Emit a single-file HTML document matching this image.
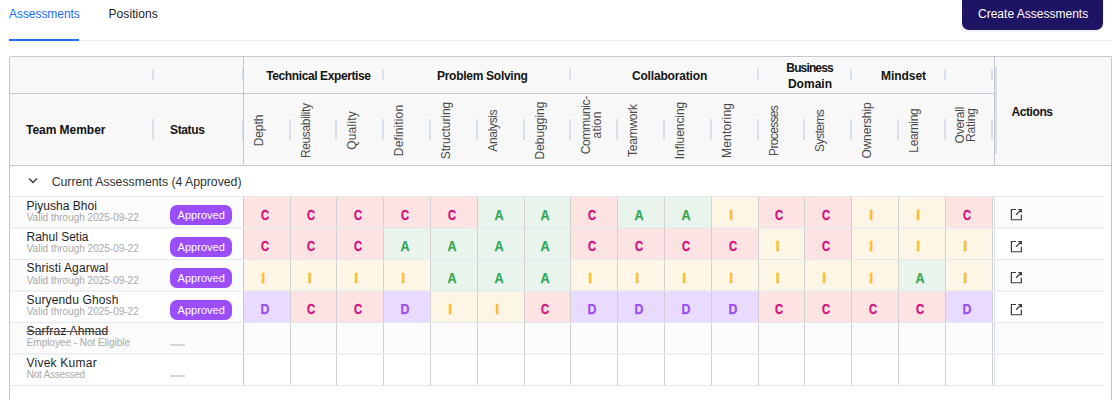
<!DOCTYPE html>
<html><head><meta charset="utf-8"><style>
html,body{margin:0;padding:0;}
body{width:1119px;height:400px;overflow:hidden;position:relative;background:#fff;font-family:"Liberation Sans", sans-serif;}
</style></head><body>
<div style="position:absolute;left:9.00px;top:7.84px;font-size:12px;line-height:12px;height:12px;white-space:nowrap;color:#1b6ef3;font-weight:normal;letter-spacing:-0.052px;">Assessments</div><div style="position:absolute;left:108.50px;top:7.84px;font-size:12px;line-height:12px;height:12px;white-space:nowrap;color:#222;font-weight:normal;letter-spacing:0.081px;">Positions</div><div style="position:absolute;left:9.00px;top:40.00px;width:1103.00px;height:1.00px;background:#e9e9e9"></div><div style="position:absolute;left:9.00px;top:39.00px;width:70.00px;height:2.00px;background:#1b6ef3"></div><div style="position:absolute;left:962.00px;top:-8.00px;width:141.00px;height:38.00px;background:#1d1463;border-radius:7px;box-shadow:0 1px 2px rgba(40,60,160,0.12)"></div><div style="position:absolute;left:978.00px;top:7.64px;font-size:12px;line-height:12px;height:12px;white-space:nowrap;color:#fff;font-weight:normal;letter-spacing:0.008px;">Create Assessments</div><div style="position:absolute;left:9.00px;top:56.00px;width:1103.00px;height:109.00px;background:#f8f8f8;border:1px solid #c3c7cf;border-bottom:none;border-radius:2px 2px 0 0;box-sizing:border-box"></div><div style="position:absolute;left:9.00px;top:165.00px;width:1.00px;height:235.00px;background:#c3c7cf"></div><div style="position:absolute;left:1111.00px;top:165.00px;width:1.00px;height:235.00px;background:#c3c7cf"></div><div style="position:absolute;left:9.00px;top:93.00px;width:985.00px;height:1.00px;background:#c3c7cf"></div><div style="position:absolute;left:9.00px;top:165.00px;width:1103.00px;height:1.00px;background:#c3c7cf"></div><div style="position:absolute;left:243.00px;top:56.00px;width:1.00px;height:109.00px;background:#c3c7cf"></div><div style="position:absolute;left:994.00px;top:56.00px;width:1.00px;height:109.00px;background:#c3c7cf"></div><div style="position:absolute;left:152.00px;top:69.00px;width:2.00px;height:11.00px;background:#dbe1ec"></div><div style="position:absolute;left:242.00px;top:69.00px;width:2.00px;height:11.00px;background:#dbe1ec"></div><div style="position:absolute;left:382.00px;top:69.00px;width:2.00px;height:11.00px;background:#dbe1ec"></div><div style="position:absolute;left:569.00px;top:69.00px;width:2.00px;height:11.00px;background:#dbe1ec"></div><div style="position:absolute;left:757.00px;top:69.00px;width:2.00px;height:11.00px;background:#dbe1ec"></div><div style="position:absolute;left:850.00px;top:69.00px;width:2.00px;height:11.00px;background:#dbe1ec"></div><div style="position:absolute;left:944.00px;top:69.00px;width:2.00px;height:11.00px;background:#dbe1ec"></div><div style="position:absolute;left:991.00px;top:69.00px;width:2.00px;height:11.00px;background:#dbe1ec"></div><div style="position:absolute;left:152.00px;top:119.00px;width:2.00px;height:21.00px;background:#dbe1ec"></div><div style="position:absolute;left:242.00px;top:119.00px;width:2.00px;height:21.00px;background:#dbe1ec"></div><div style="position:absolute;left:289.00px;top:119.00px;width:2.00px;height:21.00px;background:#dbe1ec"></div><div style="position:absolute;left:335.00px;top:119.00px;width:2.00px;height:21.00px;background:#dbe1ec"></div><div style="position:absolute;left:382.00px;top:119.00px;width:2.00px;height:21.00px;background:#dbe1ec"></div><div style="position:absolute;left:429.00px;top:119.00px;width:2.00px;height:21.00px;background:#dbe1ec"></div><div style="position:absolute;left:476.00px;top:119.00px;width:2.00px;height:21.00px;background:#dbe1ec"></div><div style="position:absolute;left:523.00px;top:119.00px;width:2.00px;height:21.00px;background:#dbe1ec"></div><div style="position:absolute;left:569.00px;top:119.00px;width:2.00px;height:21.00px;background:#dbe1ec"></div><div style="position:absolute;left:616.00px;top:119.00px;width:2.00px;height:21.00px;background:#dbe1ec"></div><div style="position:absolute;left:663.00px;top:119.00px;width:2.00px;height:21.00px;background:#dbe1ec"></div><div style="position:absolute;left:710.00px;top:119.00px;width:2.00px;height:21.00px;background:#dbe1ec"></div><div style="position:absolute;left:757.00px;top:119.00px;width:2.00px;height:21.00px;background:#dbe1ec"></div><div style="position:absolute;left:803.00px;top:119.00px;width:2.00px;height:21.00px;background:#dbe1ec"></div><div style="position:absolute;left:850.00px;top:119.00px;width:2.00px;height:21.00px;background:#dbe1ec"></div><div style="position:absolute;left:897.00px;top:119.00px;width:2.00px;height:21.00px;background:#dbe1ec"></div><div style="position:absolute;left:944.00px;top:119.00px;width:2.00px;height:21.00px;background:#dbe1ec"></div><div style="position:absolute;left:991.00px;top:119.00px;width:2.00px;height:21.00px;background:#dbe1ec"></div><div style="position:absolute;left:995.00px;top:67.00px;width:2.00px;height:87.00px;background:#dbe1ec"></div><div style="position:absolute;left:243.00px;top:56.00px;width:1.00px;height:109.00px;background:#c3c7cf"></div><div style="position:absolute;left:994.00px;top:56.00px;width:1.00px;height:109.00px;background:#c3c7cf"></div><div style="position:absolute;left:26.00px;top:124.14px;font-size:12px;line-height:12px;height:12px;white-space:nowrap;color:#141414;font-weight:bold;letter-spacing:-0.036px;">Team Member</div><div style="position:absolute;left:170.00px;top:124.34px;font-size:12px;line-height:12px;height:12px;white-space:nowrap;color:#141414;font-weight:bold;letter-spacing:-0.367px;">Status</div><div style="position:absolute;left:1011.40px;top:106.34px;font-size:12px;line-height:12px;height:12px;white-space:nowrap;color:#141414;font-weight:bold;letter-spacing:-0.394px;">Actions</div><div style="position:absolute;left:168.60px;width:300px;text-align:center;top:70.04px;font-size:12px;line-height:12px;height:12px;white-space:nowrap;color:#141414;font-weight:bold;letter-spacing:-0.388px;text-indent:-0.388px;">Technical Expertise</div><div style="position:absolute;left:332.40px;width:300px;text-align:center;top:70.04px;font-size:12px;line-height:12px;height:12px;white-space:nowrap;color:#141414;font-weight:bold;letter-spacing:-0.274px;text-indent:-0.274px;">Problem Solving</div><div style="position:absolute;left:519.60px;width:300px;text-align:center;top:70.04px;font-size:12px;line-height:12px;height:12px;white-space:nowrap;color:#141414;font-weight:bold;letter-spacing:-0.166px;text-indent:-0.166px;">Collaboration</div><div style="position:absolute;left:753.60px;width:300px;text-align:center;top:70.04px;font-size:12px;line-height:12px;height:12px;white-space:nowrap;color:#141414;font-weight:bold;letter-spacing:-0.049px;text-indent:-0.049px;">Mindset</div><div style="position:absolute;left:660.00px;width:300px;text-align:center;top:62.44px;font-size:12px;line-height:12px;height:12px;white-space:nowrap;color:#141414;font-weight:bold;letter-spacing:-0.859px;text-indent:-0.859px;">Business</div><div style="position:absolute;left:660.00px;width:300px;text-align:center;top:78.24px;font-size:12px;line-height:12px;height:12px;white-space:nowrap;color:#141414;font-weight:bold;letter-spacing:0.027px;text-indent:0.027px;">Domain</div><div style="position:absolute;left:198.70px;top:124.80px;width:120px;height:11px;line-height:11px;font-size:12px;text-align:center;color:#4a4a4a;transform:rotate(-90deg);white-space:nowrap"><span style="letter-spacing:-0.095px;margin-right:0.095px">Depth</span></div><div style="position:absolute;left:245.50px;top:124.80px;width:120px;height:11px;line-height:11px;font-size:12px;text-align:center;color:#4a4a4a;transform:rotate(-90deg);white-space:nowrap"><span style="letter-spacing:-0.355px;margin-right:0.355px">Reusability</span></div><div style="position:absolute;left:292.30px;top:124.80px;width:120px;height:11px;line-height:11px;font-size:12px;text-align:center;color:#4a4a4a;transform:rotate(-90deg);white-space:nowrap"><span style="letter-spacing:0.215px;margin-right:-0.215px">Quality</span></div><div style="position:absolute;left:339.10px;top:124.80px;width:120px;height:11px;line-height:11px;font-size:12px;text-align:center;color:#4a4a4a;transform:rotate(-90deg);white-space:nowrap"><span style="letter-spacing:0.135px;margin-right:-0.135px">Definition</span></div><div style="position:absolute;left:385.90px;top:124.80px;width:120px;height:11px;line-height:11px;font-size:12px;text-align:center;color:#4a4a4a;transform:rotate(-90deg);white-space:nowrap"><span style="letter-spacing:-0.049px;margin-right:0.049px">Structuring</span></div><div style="position:absolute;left:432.70px;top:124.80px;width:120px;height:11px;line-height:11px;font-size:12px;text-align:center;color:#4a4a4a;transform:rotate(-90deg);white-space:nowrap"><span style="letter-spacing:-0.349px;margin-right:0.349px">Analysis</span></div><div style="position:absolute;left:479.50px;top:124.80px;width:120px;height:11px;line-height:11px;font-size:12px;text-align:center;color:#4a4a4a;transform:rotate(-90deg);white-space:nowrap"><span style="letter-spacing:-0.026px;margin-right:0.026px">Debugging</span></div><div style="position:absolute;left:531.80px;top:114.20px;width:120px;height:22px;line-height:11px;font-size:12px;text-align:center;color:#4a4a4a;transform:rotate(-90deg);white-space:nowrap"><span style="letter-spacing:-0.363px;margin-right:0.363px">Communic-</span><br><span style="letter-spacing:0.205px;margin-right:-0.205px">ation</span></div><div style="position:absolute;left:573.10px;top:124.80px;width:120px;height:11px;line-height:11px;font-size:12px;text-align:center;color:#4a4a4a;transform:rotate(-90deg);white-space:nowrap"><span style="letter-spacing:-0.234px;margin-right:0.234px">Teamwork</span></div><div style="position:absolute;left:619.90px;top:124.80px;width:120px;height:11px;line-height:11px;font-size:12px;text-align:center;color:#4a4a4a;transform:rotate(-90deg);white-space:nowrap"><span style="letter-spacing:-0.050px;margin-right:0.050px">Influencing</span></div><div style="position:absolute;left:666.70px;top:124.80px;width:120px;height:11px;line-height:11px;font-size:12px;text-align:center;color:#4a4a4a;transform:rotate(-90deg);white-space:nowrap"><span style="letter-spacing:0.197px;margin-right:-0.197px">Mentoring</span></div><div style="position:absolute;left:713.50px;top:124.80px;width:120px;height:11px;line-height:11px;font-size:12px;text-align:center;color:#4a4a4a;transform:rotate(-90deg);white-space:nowrap"><span style="letter-spacing:-0.660px;margin-right:0.660px">Processes</span></div><div style="position:absolute;left:760.30px;top:124.80px;width:120px;height:11px;line-height:11px;font-size:12px;text-align:center;color:#4a4a4a;transform:rotate(-90deg);white-space:nowrap"><span style="letter-spacing:-0.545px;margin-right:0.545px">Systems</span></div><div style="position:absolute;left:807.10px;top:124.80px;width:120px;height:11px;line-height:11px;font-size:12px;text-align:center;color:#4a4a4a;transform:rotate(-90deg);white-space:nowrap"><span style="letter-spacing:-0.152px;margin-right:0.152px">Ownership</span></div><div style="position:absolute;left:853.90px;top:124.80px;width:120px;height:11px;line-height:11px;font-size:12px;text-align:center;color:#4a4a4a;transform:rotate(-90deg);white-space:nowrap"><span style="letter-spacing:-0.324px;margin-right:0.324px">Learning</span></div><div style="position:absolute;left:906.20px;top:113.60px;width:120px;height:22px;line-height:11px;font-size:12px;text-align:center;color:#4a4a4a;transform:rotate(-90deg);white-space:nowrap"><span style="letter-spacing:-0.195px;margin-right:0.195px">Overall</span><br><span style="letter-spacing:-0.189px;margin-right:0.189px">Rating</span></div><div style="position:absolute;left:10.00px;top:166.00px;width:1101.00px;height:30.50px;background:#fff"></div><svg style="position:absolute;left:28px;top:177px" width="10" height="7" viewBox="0 0 10 7"><path d="M1 1.5 L5 5.5 L9 1.5" fill="none" stroke="#333" stroke-width="1.25"/></svg><div style="position:absolute;left:51.70px;top:175.99px;font-size:12.3px;line-height:12.3px;height:12.3px;white-space:nowrap;color:#333;font-weight:normal;letter-spacing:-0.028px;">Current Assessments (4 Approved)</div><div style="position:absolute;left:10.00px;top:196.00px;width:1094.00px;height:1.00px;background:#e4e7ee"></div><div style="position:absolute;left:10.00px;top:197.00px;width:1094.00px;height:31.00px;background:#fbfbfb"></div><div style="position:absolute;left:243.00px;top:197.00px;width:47.00px;height:31.00px;background:#fde4e3"></div><div style="position:absolute;left:244.50px;width:40px;text-align:center;top:208.25px;font-size:14px;line-height:14px;font-weight:bold;color:#d4117d;transform:scaleX(0.8);-webkit-text-stroke:0.35px #d4117d">C</div><div style="position:absolute;left:290.00px;top:197.00px;width:46.00px;height:31.00px;background:#fde4e3"></div><div style="position:absolute;left:291.00px;width:40px;text-align:center;top:208.25px;font-size:14px;line-height:14px;font-weight:bold;color:#d4117d;transform:scaleX(0.8);-webkit-text-stroke:0.35px #d4117d">C</div><div style="position:absolute;left:336.00px;top:197.00px;width:47.00px;height:31.00px;background:#fde4e3"></div><div style="position:absolute;left:337.50px;width:40px;text-align:center;top:208.25px;font-size:14px;line-height:14px;font-weight:bold;color:#d4117d;transform:scaleX(0.8);-webkit-text-stroke:0.35px #d4117d">C</div><div style="position:absolute;left:383.00px;top:197.00px;width:47.00px;height:31.00px;background:#fde4e3"></div><div style="position:absolute;left:384.50px;width:40px;text-align:center;top:208.25px;font-size:14px;line-height:14px;font-weight:bold;color:#d4117d;transform:scaleX(0.8);-webkit-text-stroke:0.35px #d4117d">C</div><div style="position:absolute;left:430.00px;top:197.00px;width:47.00px;height:31.00px;background:#fde4e3"></div><div style="position:absolute;left:431.50px;width:40px;text-align:center;top:208.25px;font-size:14px;line-height:14px;font-weight:bold;color:#d4117d;transform:scaleX(0.8);-webkit-text-stroke:0.35px #d4117d">C</div><div style="position:absolute;left:477.00px;top:197.00px;width:47.00px;height:31.00px;background:#e9f4ec"></div><div style="position:absolute;left:478.50px;width:40px;text-align:center;top:208.25px;font-size:14px;line-height:14px;font-weight:bold;color:#33a853;transform:scaleX(0.9);-webkit-text-stroke:0.25px #33a853">A</div><div style="position:absolute;left:524.00px;top:197.00px;width:46.00px;height:31.00px;background:#e9f4ec"></div><div style="position:absolute;left:525.00px;width:40px;text-align:center;top:208.25px;font-size:14px;line-height:14px;font-weight:bold;color:#33a853;transform:scaleX(0.9);-webkit-text-stroke:0.25px #33a853">A</div><div style="position:absolute;left:570.00px;top:197.00px;width:47.00px;height:31.00px;background:#fde4e3"></div><div style="position:absolute;left:571.50px;width:40px;text-align:center;top:208.25px;font-size:14px;line-height:14px;font-weight:bold;color:#d4117d;transform:scaleX(0.8);-webkit-text-stroke:0.35px #d4117d">C</div><div style="position:absolute;left:617.00px;top:197.00px;width:47.00px;height:31.00px;background:#e9f4ec"></div><div style="position:absolute;left:618.50px;width:40px;text-align:center;top:208.25px;font-size:14px;line-height:14px;font-weight:bold;color:#33a853;transform:scaleX(0.9);-webkit-text-stroke:0.25px #33a853">A</div><div style="position:absolute;left:664.00px;top:197.00px;width:47.00px;height:31.00px;background:#e9f4ec"></div><div style="position:absolute;left:665.50px;width:40px;text-align:center;top:208.25px;font-size:14px;line-height:14px;font-weight:bold;color:#33a853;transform:scaleX(0.9);-webkit-text-stroke:0.25px #33a853">A</div><div style="position:absolute;left:711.00px;top:197.00px;width:47.00px;height:31.00px;background:#fdf5e6"></div><div style="position:absolute;left:711.30px;width:40px;text-align:center;top:208.25px;font-size:14px;line-height:14px;font-weight:bold;color:#fbbb2e;transform:scaleX(1.0);-webkit-text-stroke:0.4px #fbbb2e">I</div><div style="position:absolute;left:758.00px;top:197.00px;width:46.00px;height:31.00px;background:#fde4e3"></div><div style="position:absolute;left:759.00px;width:40px;text-align:center;top:208.25px;font-size:14px;line-height:14px;font-weight:bold;color:#d4117d;transform:scaleX(0.8);-webkit-text-stroke:0.35px #d4117d">C</div><div style="position:absolute;left:804.00px;top:197.00px;width:47.00px;height:31.00px;background:#fde4e3"></div><div style="position:absolute;left:805.50px;width:40px;text-align:center;top:208.25px;font-size:14px;line-height:14px;font-weight:bold;color:#d4117d;transform:scaleX(0.8);-webkit-text-stroke:0.35px #d4117d">C</div><div style="position:absolute;left:851.00px;top:197.00px;width:47.00px;height:31.00px;background:#fdf5e6"></div><div style="position:absolute;left:851.30px;width:40px;text-align:center;top:208.25px;font-size:14px;line-height:14px;font-weight:bold;color:#fbbb2e;transform:scaleX(1.0);-webkit-text-stroke:0.4px #fbbb2e">I</div><div style="position:absolute;left:898.00px;top:197.00px;width:47.00px;height:31.00px;background:#fdf5e6"></div><div style="position:absolute;left:898.30px;width:40px;text-align:center;top:208.25px;font-size:14px;line-height:14px;font-weight:bold;color:#fbbb2e;transform:scaleX(1.0);-webkit-text-stroke:0.4px #fbbb2e">I</div><div style="position:absolute;left:945.00px;top:197.00px;width:47.00px;height:31.00px;background:#fde4e3"></div><div style="position:absolute;left:946.50px;width:40px;text-align:center;top:208.25px;font-size:14px;line-height:14px;font-weight:bold;color:#d4117d;transform:scaleX(0.8);-webkit-text-stroke:0.35px #d4117d">C</div><div style="position:absolute;left:243.00px;top:197.00px;width:1.00px;height:31.00px;background:#c3c7cf"></div><div style="position:absolute;left:290.00px;top:197.00px;width:1.00px;height:31.00px;background:#d0d0d0"></div><div style="position:absolute;left:336.00px;top:197.00px;width:1.00px;height:31.00px;background:#d0d0d0"></div><div style="position:absolute;left:383.00px;top:197.00px;width:1.00px;height:31.00px;background:#d0d0d0"></div><div style="position:absolute;left:430.00px;top:197.00px;width:1.00px;height:31.00px;background:#d0d0d0"></div><div style="position:absolute;left:477.00px;top:197.00px;width:1.00px;height:31.00px;background:#d0d0d0"></div><div style="position:absolute;left:524.00px;top:197.00px;width:1.00px;height:31.00px;background:#d0d0d0"></div><div style="position:absolute;left:570.00px;top:197.00px;width:1.00px;height:31.00px;background:#d0d0d0"></div><div style="position:absolute;left:617.00px;top:197.00px;width:1.00px;height:31.00px;background:#d0d0d0"></div><div style="position:absolute;left:664.00px;top:197.00px;width:1.00px;height:31.00px;background:#d0d0d0"></div><div style="position:absolute;left:711.00px;top:197.00px;width:1.00px;height:31.00px;background:#d0d0d0"></div><div style="position:absolute;left:758.00px;top:197.00px;width:1.00px;height:31.00px;background:#d0d0d0"></div><div style="position:absolute;left:804.00px;top:197.00px;width:1.00px;height:31.00px;background:#d0d0d0"></div><div style="position:absolute;left:851.00px;top:197.00px;width:1.00px;height:31.00px;background:#d0d0d0"></div><div style="position:absolute;left:898.00px;top:197.00px;width:1.00px;height:31.00px;background:#d0d0d0"></div><div style="position:absolute;left:945.00px;top:197.00px;width:1.00px;height:31.00px;background:#d0d0d0"></div><div style="position:absolute;left:992.00px;top:197.00px;width:1.00px;height:31.00px;background:#d0d0d0"></div><div style="position:absolute;left:994.00px;top:197.00px;width:1.00px;height:31.00px;background:#dbe1ec"></div><div style="position:absolute;left:26.50px;top:200.04px;font-size:12px;line-height:12px;height:12px;white-space:nowrap;color:#1f1f1f;font-weight:normal;letter-spacing:0.027px;">Piyusha Bhoi</div><div style="position:absolute;left:26.70px;top:212.94px;font-size:10px;line-height:10px;height:10px;white-space:nowrap;color:#a9a9a9;font-weight:normal;letter-spacing:-0.005px;">Valid through 2025-09-22</div><div style="position:absolute;left:170.00px;top:205.10px;width:62.00px;height:20.30px;background:#9b4dfa;border-radius:7px"></div><div style="position:absolute;left:177.60px;top:210.19px;font-size:11px;line-height:11px;height:11px;white-space:nowrap;color:#fff;font-weight:normal;letter-spacing:0.026px;">Approved</div><svg style="position:absolute;left:1006px;top:204.00px" width="20" height="20" viewBox="0 0 20 20"><path d="M10 5.5 H5.4 V15.75 H15.35 V10.75 M12.3 5.5 H15.35 V8.6 M15.1 5.75 L10.1 10.75" fill="none" stroke="#3a3a3a" stroke-width="1.2"/></svg><div style="position:absolute;left:10.00px;top:228.00px;width:1094.00px;height:31.00px;background:#fff"></div><div style="position:absolute;left:243.00px;top:228.00px;width:47.00px;height:31.00px;background:#fde4e3"></div><div style="position:absolute;left:244.50px;width:40px;text-align:center;top:239.15px;font-size:14px;line-height:14px;font-weight:bold;color:#d4117d;transform:scaleX(0.8);-webkit-text-stroke:0.35px #d4117d">C</div><div style="position:absolute;left:290.00px;top:228.00px;width:46.00px;height:31.00px;background:#fde4e3"></div><div style="position:absolute;left:291.00px;width:40px;text-align:center;top:239.15px;font-size:14px;line-height:14px;font-weight:bold;color:#d4117d;transform:scaleX(0.8);-webkit-text-stroke:0.35px #d4117d">C</div><div style="position:absolute;left:336.00px;top:228.00px;width:47.00px;height:31.00px;background:#fde4e3"></div><div style="position:absolute;left:337.50px;width:40px;text-align:center;top:239.15px;font-size:14px;line-height:14px;font-weight:bold;color:#d4117d;transform:scaleX(0.8);-webkit-text-stroke:0.35px #d4117d">C</div><div style="position:absolute;left:383.00px;top:228.00px;width:47.00px;height:31.00px;background:#e9f4ec"></div><div style="position:absolute;left:384.50px;width:40px;text-align:center;top:239.15px;font-size:14px;line-height:14px;font-weight:bold;color:#33a853;transform:scaleX(0.9);-webkit-text-stroke:0.25px #33a853">A</div><div style="position:absolute;left:430.00px;top:228.00px;width:47.00px;height:31.00px;background:#e9f4ec"></div><div style="position:absolute;left:431.50px;width:40px;text-align:center;top:239.15px;font-size:14px;line-height:14px;font-weight:bold;color:#33a853;transform:scaleX(0.9);-webkit-text-stroke:0.25px #33a853">A</div><div style="position:absolute;left:477.00px;top:228.00px;width:47.00px;height:31.00px;background:#e9f4ec"></div><div style="position:absolute;left:478.50px;width:40px;text-align:center;top:239.15px;font-size:14px;line-height:14px;font-weight:bold;color:#33a853;transform:scaleX(0.9);-webkit-text-stroke:0.25px #33a853">A</div><div style="position:absolute;left:524.00px;top:228.00px;width:46.00px;height:31.00px;background:#e9f4ec"></div><div style="position:absolute;left:525.00px;width:40px;text-align:center;top:239.15px;font-size:14px;line-height:14px;font-weight:bold;color:#33a853;transform:scaleX(0.9);-webkit-text-stroke:0.25px #33a853">A</div><div style="position:absolute;left:570.00px;top:228.00px;width:47.00px;height:31.00px;background:#fde4e3"></div><div style="position:absolute;left:571.50px;width:40px;text-align:center;top:239.15px;font-size:14px;line-height:14px;font-weight:bold;color:#d4117d;transform:scaleX(0.8);-webkit-text-stroke:0.35px #d4117d">C</div><div style="position:absolute;left:617.00px;top:228.00px;width:47.00px;height:31.00px;background:#fde4e3"></div><div style="position:absolute;left:618.50px;width:40px;text-align:center;top:239.15px;font-size:14px;line-height:14px;font-weight:bold;color:#d4117d;transform:scaleX(0.8);-webkit-text-stroke:0.35px #d4117d">C</div><div style="position:absolute;left:664.00px;top:228.00px;width:47.00px;height:31.00px;background:#fde4e3"></div><div style="position:absolute;left:665.50px;width:40px;text-align:center;top:239.15px;font-size:14px;line-height:14px;font-weight:bold;color:#d4117d;transform:scaleX(0.8);-webkit-text-stroke:0.35px #d4117d">C</div><div style="position:absolute;left:711.00px;top:228.00px;width:47.00px;height:31.00px;background:#fde4e3"></div><div style="position:absolute;left:712.50px;width:40px;text-align:center;top:239.15px;font-size:14px;line-height:14px;font-weight:bold;color:#d4117d;transform:scaleX(0.8);-webkit-text-stroke:0.35px #d4117d">C</div><div style="position:absolute;left:758.00px;top:228.00px;width:46.00px;height:31.00px;background:#fdf5e6"></div><div style="position:absolute;left:757.80px;width:40px;text-align:center;top:239.15px;font-size:14px;line-height:14px;font-weight:bold;color:#fbbb2e;transform:scaleX(1.0);-webkit-text-stroke:0.4px #fbbb2e">I</div><div style="position:absolute;left:804.00px;top:228.00px;width:47.00px;height:31.00px;background:#fde4e3"></div><div style="position:absolute;left:805.50px;width:40px;text-align:center;top:239.15px;font-size:14px;line-height:14px;font-weight:bold;color:#d4117d;transform:scaleX(0.8);-webkit-text-stroke:0.35px #d4117d">C</div><div style="position:absolute;left:851.00px;top:228.00px;width:47.00px;height:31.00px;background:#fdf5e6"></div><div style="position:absolute;left:851.30px;width:40px;text-align:center;top:239.15px;font-size:14px;line-height:14px;font-weight:bold;color:#fbbb2e;transform:scaleX(1.0);-webkit-text-stroke:0.4px #fbbb2e">I</div><div style="position:absolute;left:898.00px;top:228.00px;width:47.00px;height:31.00px;background:#fdf5e6"></div><div style="position:absolute;left:898.30px;width:40px;text-align:center;top:239.15px;font-size:14px;line-height:14px;font-weight:bold;color:#fbbb2e;transform:scaleX(1.0);-webkit-text-stroke:0.4px #fbbb2e">I</div><div style="position:absolute;left:945.00px;top:228.00px;width:47.00px;height:31.00px;background:#fdf5e6"></div><div style="position:absolute;left:945.30px;width:40px;text-align:center;top:239.15px;font-size:14px;line-height:14px;font-weight:bold;color:#fbbb2e;transform:scaleX(1.0);-webkit-text-stroke:0.4px #fbbb2e">I</div><div style="position:absolute;left:243.00px;top:228.00px;width:1.00px;height:31.00px;background:#c3c7cf"></div><div style="position:absolute;left:290.00px;top:228.00px;width:1.00px;height:31.00px;background:#d0d0d0"></div><div style="position:absolute;left:336.00px;top:228.00px;width:1.00px;height:31.00px;background:#d0d0d0"></div><div style="position:absolute;left:383.00px;top:228.00px;width:1.00px;height:31.00px;background:#d0d0d0"></div><div style="position:absolute;left:430.00px;top:228.00px;width:1.00px;height:31.00px;background:#d0d0d0"></div><div style="position:absolute;left:477.00px;top:228.00px;width:1.00px;height:31.00px;background:#d0d0d0"></div><div style="position:absolute;left:524.00px;top:228.00px;width:1.00px;height:31.00px;background:#d0d0d0"></div><div style="position:absolute;left:570.00px;top:228.00px;width:1.00px;height:31.00px;background:#d0d0d0"></div><div style="position:absolute;left:617.00px;top:228.00px;width:1.00px;height:31.00px;background:#d0d0d0"></div><div style="position:absolute;left:664.00px;top:228.00px;width:1.00px;height:31.00px;background:#d0d0d0"></div><div style="position:absolute;left:711.00px;top:228.00px;width:1.00px;height:31.00px;background:#d0d0d0"></div><div style="position:absolute;left:758.00px;top:228.00px;width:1.00px;height:31.00px;background:#d0d0d0"></div><div style="position:absolute;left:804.00px;top:228.00px;width:1.00px;height:31.00px;background:#d0d0d0"></div><div style="position:absolute;left:851.00px;top:228.00px;width:1.00px;height:31.00px;background:#d0d0d0"></div><div style="position:absolute;left:898.00px;top:228.00px;width:1.00px;height:31.00px;background:#d0d0d0"></div><div style="position:absolute;left:945.00px;top:228.00px;width:1.00px;height:31.00px;background:#d0d0d0"></div><div style="position:absolute;left:992.00px;top:228.00px;width:1.00px;height:31.00px;background:#d0d0d0"></div><div style="position:absolute;left:994.00px;top:228.00px;width:1.00px;height:31.00px;background:#dbe1ec"></div><div style="position:absolute;left:26.50px;top:230.74px;font-size:12px;line-height:12px;height:12px;white-space:nowrap;color:#1f1f1f;font-weight:normal;letter-spacing:0.000px;">Rahul Setia</div><div style="position:absolute;left:26.70px;top:243.84px;font-size:10px;line-height:10px;height:10px;white-space:nowrap;color:#a9a9a9;font-weight:normal;letter-spacing:-0.005px;">Valid through 2025-09-22</div><div style="position:absolute;left:170.00px;top:236.60px;width:62.00px;height:20.30px;background:#9b4dfa;border-radius:7px"></div><div style="position:absolute;left:177.60px;top:241.69px;font-size:11px;line-height:11px;height:11px;white-space:nowrap;color:#fff;font-weight:normal;letter-spacing:0.026px;">Approved</div><svg style="position:absolute;left:1006px;top:235.50px" width="20" height="20" viewBox="0 0 20 20"><path d="M10 5.5 H5.4 V15.75 H15.35 V10.75 M12.3 5.5 H15.35 V8.6 M15.1 5.75 L10.1 10.75" fill="none" stroke="#3a3a3a" stroke-width="1.2"/></svg><div style="position:absolute;left:10.00px;top:260.00px;width:1094.00px;height:31.00px;background:#fbfbfb"></div><div style="position:absolute;left:243.00px;top:260.00px;width:47.00px;height:31.00px;background:#fdf5e6"></div><div style="position:absolute;left:243.30px;width:40px;text-align:center;top:271.25px;font-size:14px;line-height:14px;font-weight:bold;color:#fbbb2e;transform:scaleX(1.0);-webkit-text-stroke:0.4px #fbbb2e">I</div><div style="position:absolute;left:290.00px;top:260.00px;width:46.00px;height:31.00px;background:#fdf5e6"></div><div style="position:absolute;left:289.80px;width:40px;text-align:center;top:271.25px;font-size:14px;line-height:14px;font-weight:bold;color:#fbbb2e;transform:scaleX(1.0);-webkit-text-stroke:0.4px #fbbb2e">I</div><div style="position:absolute;left:336.00px;top:260.00px;width:47.00px;height:31.00px;background:#fdf5e6"></div><div style="position:absolute;left:336.30px;width:40px;text-align:center;top:271.25px;font-size:14px;line-height:14px;font-weight:bold;color:#fbbb2e;transform:scaleX(1.0);-webkit-text-stroke:0.4px #fbbb2e">I</div><div style="position:absolute;left:383.00px;top:260.00px;width:47.00px;height:31.00px;background:#fdf5e6"></div><div style="position:absolute;left:383.30px;width:40px;text-align:center;top:271.25px;font-size:14px;line-height:14px;font-weight:bold;color:#fbbb2e;transform:scaleX(1.0);-webkit-text-stroke:0.4px #fbbb2e">I</div><div style="position:absolute;left:430.00px;top:260.00px;width:47.00px;height:31.00px;background:#e9f4ec"></div><div style="position:absolute;left:431.50px;width:40px;text-align:center;top:271.25px;font-size:14px;line-height:14px;font-weight:bold;color:#33a853;transform:scaleX(0.9);-webkit-text-stroke:0.25px #33a853">A</div><div style="position:absolute;left:477.00px;top:260.00px;width:47.00px;height:31.00px;background:#e9f4ec"></div><div style="position:absolute;left:478.50px;width:40px;text-align:center;top:271.25px;font-size:14px;line-height:14px;font-weight:bold;color:#33a853;transform:scaleX(0.9);-webkit-text-stroke:0.25px #33a853">A</div><div style="position:absolute;left:524.00px;top:260.00px;width:46.00px;height:31.00px;background:#e9f4ec"></div><div style="position:absolute;left:525.00px;width:40px;text-align:center;top:271.25px;font-size:14px;line-height:14px;font-weight:bold;color:#33a853;transform:scaleX(0.9);-webkit-text-stroke:0.25px #33a853">A</div><div style="position:absolute;left:570.00px;top:260.00px;width:47.00px;height:31.00px;background:#fdf5e6"></div><div style="position:absolute;left:570.30px;width:40px;text-align:center;top:271.25px;font-size:14px;line-height:14px;font-weight:bold;color:#fbbb2e;transform:scaleX(1.0);-webkit-text-stroke:0.4px #fbbb2e">I</div><div style="position:absolute;left:617.00px;top:260.00px;width:47.00px;height:31.00px;background:#fdf5e6"></div><div style="position:absolute;left:617.30px;width:40px;text-align:center;top:271.25px;font-size:14px;line-height:14px;font-weight:bold;color:#fbbb2e;transform:scaleX(1.0);-webkit-text-stroke:0.4px #fbbb2e">I</div><div style="position:absolute;left:664.00px;top:260.00px;width:47.00px;height:31.00px;background:#fdf5e6"></div><div style="position:absolute;left:664.30px;width:40px;text-align:center;top:271.25px;font-size:14px;line-height:14px;font-weight:bold;color:#fbbb2e;transform:scaleX(1.0);-webkit-text-stroke:0.4px #fbbb2e">I</div><div style="position:absolute;left:711.00px;top:260.00px;width:47.00px;height:31.00px;background:#fdf5e6"></div><div style="position:absolute;left:711.30px;width:40px;text-align:center;top:271.25px;font-size:14px;line-height:14px;font-weight:bold;color:#fbbb2e;transform:scaleX(1.0);-webkit-text-stroke:0.4px #fbbb2e">I</div><div style="position:absolute;left:758.00px;top:260.00px;width:46.00px;height:31.00px;background:#fdf5e6"></div><div style="position:absolute;left:757.80px;width:40px;text-align:center;top:271.25px;font-size:14px;line-height:14px;font-weight:bold;color:#fbbb2e;transform:scaleX(1.0);-webkit-text-stroke:0.4px #fbbb2e">I</div><div style="position:absolute;left:804.00px;top:260.00px;width:47.00px;height:31.00px;background:#fdf5e6"></div><div style="position:absolute;left:804.30px;width:40px;text-align:center;top:271.25px;font-size:14px;line-height:14px;font-weight:bold;color:#fbbb2e;transform:scaleX(1.0);-webkit-text-stroke:0.4px #fbbb2e">I</div><div style="position:absolute;left:851.00px;top:260.00px;width:47.00px;height:31.00px;background:#fdf5e6"></div><div style="position:absolute;left:851.30px;width:40px;text-align:center;top:271.25px;font-size:14px;line-height:14px;font-weight:bold;color:#fbbb2e;transform:scaleX(1.0);-webkit-text-stroke:0.4px #fbbb2e">I</div><div style="position:absolute;left:898.00px;top:260.00px;width:47.00px;height:31.00px;background:#e9f4ec"></div><div style="position:absolute;left:899.50px;width:40px;text-align:center;top:271.25px;font-size:14px;line-height:14px;font-weight:bold;color:#33a853;transform:scaleX(0.9);-webkit-text-stroke:0.25px #33a853">A</div><div style="position:absolute;left:945.00px;top:260.00px;width:47.00px;height:31.00px;background:#fdf5e6"></div><div style="position:absolute;left:945.30px;width:40px;text-align:center;top:271.25px;font-size:14px;line-height:14px;font-weight:bold;color:#fbbb2e;transform:scaleX(1.0);-webkit-text-stroke:0.4px #fbbb2e">I</div><div style="position:absolute;left:243.00px;top:260.00px;width:1.00px;height:31.00px;background:#c3c7cf"></div><div style="position:absolute;left:290.00px;top:260.00px;width:1.00px;height:31.00px;background:#d0d0d0"></div><div style="position:absolute;left:336.00px;top:260.00px;width:1.00px;height:31.00px;background:#d0d0d0"></div><div style="position:absolute;left:383.00px;top:260.00px;width:1.00px;height:31.00px;background:#d0d0d0"></div><div style="position:absolute;left:430.00px;top:260.00px;width:1.00px;height:31.00px;background:#d0d0d0"></div><div style="position:absolute;left:477.00px;top:260.00px;width:1.00px;height:31.00px;background:#d0d0d0"></div><div style="position:absolute;left:524.00px;top:260.00px;width:1.00px;height:31.00px;background:#d0d0d0"></div><div style="position:absolute;left:570.00px;top:260.00px;width:1.00px;height:31.00px;background:#d0d0d0"></div><div style="position:absolute;left:617.00px;top:260.00px;width:1.00px;height:31.00px;background:#d0d0d0"></div><div style="position:absolute;left:664.00px;top:260.00px;width:1.00px;height:31.00px;background:#d0d0d0"></div><div style="position:absolute;left:711.00px;top:260.00px;width:1.00px;height:31.00px;background:#d0d0d0"></div><div style="position:absolute;left:758.00px;top:260.00px;width:1.00px;height:31.00px;background:#d0d0d0"></div><div style="position:absolute;left:804.00px;top:260.00px;width:1.00px;height:31.00px;background:#d0d0d0"></div><div style="position:absolute;left:851.00px;top:260.00px;width:1.00px;height:31.00px;background:#d0d0d0"></div><div style="position:absolute;left:898.00px;top:260.00px;width:1.00px;height:31.00px;background:#d0d0d0"></div><div style="position:absolute;left:945.00px;top:260.00px;width:1.00px;height:31.00px;background:#d0d0d0"></div><div style="position:absolute;left:992.00px;top:260.00px;width:1.00px;height:31.00px;background:#d0d0d0"></div><div style="position:absolute;left:994.00px;top:260.00px;width:1.00px;height:31.00px;background:#dbe1ec"></div><div style="position:absolute;left:26.50px;top:262.44px;font-size:12px;line-height:12px;height:12px;white-space:nowrap;color:#1f1f1f;font-weight:normal;letter-spacing:0.172px;">Shristi Agarwal</div><div style="position:absolute;left:26.70px;top:275.84px;font-size:10px;line-height:10px;height:10px;white-space:nowrap;color:#a9a9a9;font-weight:normal;letter-spacing:-0.005px;">Valid through 2025-09-22</div><div style="position:absolute;left:170.00px;top:268.10px;width:62.00px;height:20.30px;background:#9b4dfa;border-radius:7px"></div><div style="position:absolute;left:177.60px;top:273.19px;font-size:11px;line-height:11px;height:11px;white-space:nowrap;color:#fff;font-weight:normal;letter-spacing:0.026px;">Approved</div><svg style="position:absolute;left:1006px;top:267.00px" width="20" height="20" viewBox="0 0 20 20"><path d="M10 5.5 H5.4 V15.75 H15.35 V10.75 M12.3 5.5 H15.35 V8.6 M15.1 5.75 L10.1 10.75" fill="none" stroke="#3a3a3a" stroke-width="1.2"/></svg><div style="position:absolute;left:10.00px;top:291.00px;width:1094.00px;height:31.00px;background:#fff"></div><div style="position:absolute;left:243.00px;top:291.00px;width:47.00px;height:31.00px;background:#e8dbff"></div><div style="position:absolute;left:244.50px;width:40px;text-align:center;top:302.15px;font-size:14px;line-height:14px;font-weight:bold;color:#9b4cf5;transform:scaleX(0.88);-webkit-text-stroke:0.25px #9b4cf5">D</div><div style="position:absolute;left:290.00px;top:291.00px;width:46.00px;height:31.00px;background:#fde4e3"></div><div style="position:absolute;left:291.00px;width:40px;text-align:center;top:302.15px;font-size:14px;line-height:14px;font-weight:bold;color:#d4117d;transform:scaleX(0.8);-webkit-text-stroke:0.35px #d4117d">C</div><div style="position:absolute;left:336.00px;top:291.00px;width:47.00px;height:31.00px;background:#fde4e3"></div><div style="position:absolute;left:337.50px;width:40px;text-align:center;top:302.15px;font-size:14px;line-height:14px;font-weight:bold;color:#d4117d;transform:scaleX(0.8);-webkit-text-stroke:0.35px #d4117d">C</div><div style="position:absolute;left:383.00px;top:291.00px;width:47.00px;height:31.00px;background:#e8dbff"></div><div style="position:absolute;left:384.50px;width:40px;text-align:center;top:302.15px;font-size:14px;line-height:14px;font-weight:bold;color:#9b4cf5;transform:scaleX(0.88);-webkit-text-stroke:0.25px #9b4cf5">D</div><div style="position:absolute;left:430.00px;top:291.00px;width:47.00px;height:31.00px;background:#fdf5e6"></div><div style="position:absolute;left:430.30px;width:40px;text-align:center;top:302.15px;font-size:14px;line-height:14px;font-weight:bold;color:#fbbb2e;transform:scaleX(1.0);-webkit-text-stroke:0.4px #fbbb2e">I</div><div style="position:absolute;left:477.00px;top:291.00px;width:47.00px;height:31.00px;background:#fdf5e6"></div><div style="position:absolute;left:477.30px;width:40px;text-align:center;top:302.15px;font-size:14px;line-height:14px;font-weight:bold;color:#fbbb2e;transform:scaleX(1.0);-webkit-text-stroke:0.4px #fbbb2e">I</div><div style="position:absolute;left:524.00px;top:291.00px;width:46.00px;height:31.00px;background:#fde4e3"></div><div style="position:absolute;left:525.00px;width:40px;text-align:center;top:302.15px;font-size:14px;line-height:14px;font-weight:bold;color:#d4117d;transform:scaleX(0.8);-webkit-text-stroke:0.35px #d4117d">C</div><div style="position:absolute;left:570.00px;top:291.00px;width:47.00px;height:31.00px;background:#e8dbff"></div><div style="position:absolute;left:571.50px;width:40px;text-align:center;top:302.15px;font-size:14px;line-height:14px;font-weight:bold;color:#9b4cf5;transform:scaleX(0.88);-webkit-text-stroke:0.25px #9b4cf5">D</div><div style="position:absolute;left:617.00px;top:291.00px;width:47.00px;height:31.00px;background:#e8dbff"></div><div style="position:absolute;left:618.50px;width:40px;text-align:center;top:302.15px;font-size:14px;line-height:14px;font-weight:bold;color:#9b4cf5;transform:scaleX(0.88);-webkit-text-stroke:0.25px #9b4cf5">D</div><div style="position:absolute;left:664.00px;top:291.00px;width:47.00px;height:31.00px;background:#e8dbff"></div><div style="position:absolute;left:665.50px;width:40px;text-align:center;top:302.15px;font-size:14px;line-height:14px;font-weight:bold;color:#9b4cf5;transform:scaleX(0.88);-webkit-text-stroke:0.25px #9b4cf5">D</div><div style="position:absolute;left:711.00px;top:291.00px;width:47.00px;height:31.00px;background:#e8dbff"></div><div style="position:absolute;left:712.50px;width:40px;text-align:center;top:302.15px;font-size:14px;line-height:14px;font-weight:bold;color:#9b4cf5;transform:scaleX(0.88);-webkit-text-stroke:0.25px #9b4cf5">D</div><div style="position:absolute;left:758.00px;top:291.00px;width:46.00px;height:31.00px;background:#fde4e3"></div><div style="position:absolute;left:759.00px;width:40px;text-align:center;top:302.15px;font-size:14px;line-height:14px;font-weight:bold;color:#d4117d;transform:scaleX(0.8);-webkit-text-stroke:0.35px #d4117d">C</div><div style="position:absolute;left:804.00px;top:291.00px;width:47.00px;height:31.00px;background:#fde4e3"></div><div style="position:absolute;left:805.50px;width:40px;text-align:center;top:302.15px;font-size:14px;line-height:14px;font-weight:bold;color:#d4117d;transform:scaleX(0.8);-webkit-text-stroke:0.35px #d4117d">C</div><div style="position:absolute;left:851.00px;top:291.00px;width:47.00px;height:31.00px;background:#fde4e3"></div><div style="position:absolute;left:852.50px;width:40px;text-align:center;top:302.15px;font-size:14px;line-height:14px;font-weight:bold;color:#d4117d;transform:scaleX(0.8);-webkit-text-stroke:0.35px #d4117d">C</div><div style="position:absolute;left:898.00px;top:291.00px;width:47.00px;height:31.00px;background:#fde4e3"></div><div style="position:absolute;left:899.50px;width:40px;text-align:center;top:302.15px;font-size:14px;line-height:14px;font-weight:bold;color:#d4117d;transform:scaleX(0.8);-webkit-text-stroke:0.35px #d4117d">C</div><div style="position:absolute;left:945.00px;top:291.00px;width:47.00px;height:31.00px;background:#e8dbff"></div><div style="position:absolute;left:946.50px;width:40px;text-align:center;top:302.15px;font-size:14px;line-height:14px;font-weight:bold;color:#9b4cf5;transform:scaleX(0.88);-webkit-text-stroke:0.25px #9b4cf5">D</div><div style="position:absolute;left:243.00px;top:291.00px;width:1.00px;height:31.00px;background:#c3c7cf"></div><div style="position:absolute;left:290.00px;top:291.00px;width:1.00px;height:31.00px;background:#d0d0d0"></div><div style="position:absolute;left:336.00px;top:291.00px;width:1.00px;height:31.00px;background:#d0d0d0"></div><div style="position:absolute;left:383.00px;top:291.00px;width:1.00px;height:31.00px;background:#d0d0d0"></div><div style="position:absolute;left:430.00px;top:291.00px;width:1.00px;height:31.00px;background:#d0d0d0"></div><div style="position:absolute;left:477.00px;top:291.00px;width:1.00px;height:31.00px;background:#d0d0d0"></div><div style="position:absolute;left:524.00px;top:291.00px;width:1.00px;height:31.00px;background:#d0d0d0"></div><div style="position:absolute;left:570.00px;top:291.00px;width:1.00px;height:31.00px;background:#d0d0d0"></div><div style="position:absolute;left:617.00px;top:291.00px;width:1.00px;height:31.00px;background:#d0d0d0"></div><div style="position:absolute;left:664.00px;top:291.00px;width:1.00px;height:31.00px;background:#d0d0d0"></div><div style="position:absolute;left:711.00px;top:291.00px;width:1.00px;height:31.00px;background:#d0d0d0"></div><div style="position:absolute;left:758.00px;top:291.00px;width:1.00px;height:31.00px;background:#d0d0d0"></div><div style="position:absolute;left:804.00px;top:291.00px;width:1.00px;height:31.00px;background:#d0d0d0"></div><div style="position:absolute;left:851.00px;top:291.00px;width:1.00px;height:31.00px;background:#d0d0d0"></div><div style="position:absolute;left:898.00px;top:291.00px;width:1.00px;height:31.00px;background:#d0d0d0"></div><div style="position:absolute;left:945.00px;top:291.00px;width:1.00px;height:31.00px;background:#d0d0d0"></div><div style="position:absolute;left:992.00px;top:291.00px;width:1.00px;height:31.00px;background:#d0d0d0"></div><div style="position:absolute;left:994.00px;top:291.00px;width:1.00px;height:31.00px;background:#dbe1ec"></div><div style="position:absolute;left:26.50px;top:293.54px;font-size:12px;line-height:12px;height:12px;white-space:nowrap;color:#1f1f1f;font-weight:normal;letter-spacing:0.137px;">Suryendu Ghosh</div><div style="position:absolute;left:26.70px;top:306.84px;font-size:10px;line-height:10px;height:10px;white-space:nowrap;color:#a9a9a9;font-weight:normal;letter-spacing:-0.005px;">Valid through 2025-09-22</div><div style="position:absolute;left:170.00px;top:299.60px;width:62.00px;height:20.30px;background:#9b4dfa;border-radius:7px"></div><div style="position:absolute;left:177.60px;top:304.69px;font-size:11px;line-height:11px;height:11px;white-space:nowrap;color:#fff;font-weight:normal;letter-spacing:0.026px;">Approved</div><svg style="position:absolute;left:1006px;top:298.50px" width="20" height="20" viewBox="0 0 20 20"><path d="M10 5.5 H5.4 V15.75 H15.35 V10.75 M12.3 5.5 H15.35 V8.6 M15.1 5.75 L10.1 10.75" fill="none" stroke="#3a3a3a" stroke-width="1.2"/></svg><div style="position:absolute;left:10.00px;top:323.00px;width:1094.00px;height:31.00px;background:#fbfbfb"></div><div style="position:absolute;left:243.00px;top:323.00px;width:1.00px;height:31.00px;background:#c3c7cf"></div><div style="position:absolute;left:290.00px;top:323.00px;width:1.00px;height:31.00px;background:#d0d0d0"></div><div style="position:absolute;left:336.00px;top:323.00px;width:1.00px;height:31.00px;background:#d0d0d0"></div><div style="position:absolute;left:383.00px;top:323.00px;width:1.00px;height:31.00px;background:#d0d0d0"></div><div style="position:absolute;left:430.00px;top:323.00px;width:1.00px;height:31.00px;background:#d0d0d0"></div><div style="position:absolute;left:477.00px;top:323.00px;width:1.00px;height:31.00px;background:#d0d0d0"></div><div style="position:absolute;left:524.00px;top:323.00px;width:1.00px;height:31.00px;background:#d0d0d0"></div><div style="position:absolute;left:570.00px;top:323.00px;width:1.00px;height:31.00px;background:#d0d0d0"></div><div style="position:absolute;left:617.00px;top:323.00px;width:1.00px;height:31.00px;background:#d0d0d0"></div><div style="position:absolute;left:664.00px;top:323.00px;width:1.00px;height:31.00px;background:#d0d0d0"></div><div style="position:absolute;left:711.00px;top:323.00px;width:1.00px;height:31.00px;background:#d0d0d0"></div><div style="position:absolute;left:758.00px;top:323.00px;width:1.00px;height:31.00px;background:#d0d0d0"></div><div style="position:absolute;left:804.00px;top:323.00px;width:1.00px;height:31.00px;background:#d0d0d0"></div><div style="position:absolute;left:851.00px;top:323.00px;width:1.00px;height:31.00px;background:#d0d0d0"></div><div style="position:absolute;left:898.00px;top:323.00px;width:1.00px;height:31.00px;background:#d0d0d0"></div><div style="position:absolute;left:945.00px;top:323.00px;width:1.00px;height:31.00px;background:#d0d0d0"></div><div style="position:absolute;left:992.00px;top:323.00px;width:1.00px;height:31.00px;background:#d0d0d0"></div><div style="position:absolute;left:994.00px;top:323.00px;width:1.00px;height:31.00px;background:#dbe1ec"></div><div style="position:absolute;left:26.50px;top:325.44px;font-size:12px;line-height:12px;height:12px;white-space:nowrap;color:#1f1f1f;font-weight:normal;letter-spacing:0.201px;text-decoration:line-through;text-decoration-color:#555;text-decoration-thickness:1px;">Sarfraz Ahmad</div><div style="position:absolute;left:26.70px;top:338.34px;font-size:10px;line-height:10px;height:10px;white-space:nowrap;color:#a9a9a9;font-weight:normal;letter-spacing:-0.029px;">Employee - Not Eligible</div><div style="position:absolute;left:170.00px;top:343.50px;width:15.00px;height:2.00px;background:#d6d6d6"></div><div style="position:absolute;left:10.00px;top:354.00px;width:1094.00px;height:31.00px;background:#fff"></div><div style="position:absolute;left:243.00px;top:354.00px;width:1.00px;height:31.00px;background:#c3c7cf"></div><div style="position:absolute;left:290.00px;top:354.00px;width:1.00px;height:31.00px;background:#d0d0d0"></div><div style="position:absolute;left:336.00px;top:354.00px;width:1.00px;height:31.00px;background:#d0d0d0"></div><div style="position:absolute;left:383.00px;top:354.00px;width:1.00px;height:31.00px;background:#d0d0d0"></div><div style="position:absolute;left:430.00px;top:354.00px;width:1.00px;height:31.00px;background:#d0d0d0"></div><div style="position:absolute;left:477.00px;top:354.00px;width:1.00px;height:31.00px;background:#d0d0d0"></div><div style="position:absolute;left:524.00px;top:354.00px;width:1.00px;height:31.00px;background:#d0d0d0"></div><div style="position:absolute;left:570.00px;top:354.00px;width:1.00px;height:31.00px;background:#d0d0d0"></div><div style="position:absolute;left:617.00px;top:354.00px;width:1.00px;height:31.00px;background:#d0d0d0"></div><div style="position:absolute;left:664.00px;top:354.00px;width:1.00px;height:31.00px;background:#d0d0d0"></div><div style="position:absolute;left:711.00px;top:354.00px;width:1.00px;height:31.00px;background:#d0d0d0"></div><div style="position:absolute;left:758.00px;top:354.00px;width:1.00px;height:31.00px;background:#d0d0d0"></div><div style="position:absolute;left:804.00px;top:354.00px;width:1.00px;height:31.00px;background:#d0d0d0"></div><div style="position:absolute;left:851.00px;top:354.00px;width:1.00px;height:31.00px;background:#d0d0d0"></div><div style="position:absolute;left:898.00px;top:354.00px;width:1.00px;height:31.00px;background:#d0d0d0"></div><div style="position:absolute;left:945.00px;top:354.00px;width:1.00px;height:31.00px;background:#d0d0d0"></div><div style="position:absolute;left:992.00px;top:354.00px;width:1.00px;height:31.00px;background:#d0d0d0"></div><div style="position:absolute;left:994.00px;top:354.00px;width:1.00px;height:31.00px;background:#dbe1ec"></div><div style="position:absolute;left:26.50px;top:356.54px;font-size:12px;line-height:12px;height:12px;white-space:nowrap;color:#1f1f1f;font-weight:normal;letter-spacing:0.234px;">Vivek Kumar</div><div style="position:absolute;left:26.70px;top:369.84px;font-size:10px;line-height:10px;height:10px;white-space:nowrap;color:#a9a9a9;font-weight:normal;letter-spacing:-0.245px;">Not Assessed</div><div style="position:absolute;left:170.00px;top:375.00px;width:15.00px;height:2.00px;background:#d6d6d6"></div><div style="position:absolute;left:10.00px;top:227.00px;width:1094.00px;height:2.00px;background:#e4e7ee;opacity:0.6"></div><div style="position:absolute;left:10.00px;top:259.00px;width:1094.00px;height:1.00px;background:#e4e7ee"></div><div style="position:absolute;left:10.00px;top:290.00px;width:1094.00px;height:2.00px;background:#e4e7ee;opacity:0.6"></div><div style="position:absolute;left:10.00px;top:322.00px;width:1094.00px;height:1.00px;background:#e4e7ee"></div><div style="position:absolute;left:10.00px;top:353.00px;width:1094.00px;height:2.00px;background:#e4e7ee;opacity:0.6"></div><div style="position:absolute;left:10.00px;top:385.00px;width:1094.00px;height:1.00px;background:#e4e7ee"></div>
</body></html>
